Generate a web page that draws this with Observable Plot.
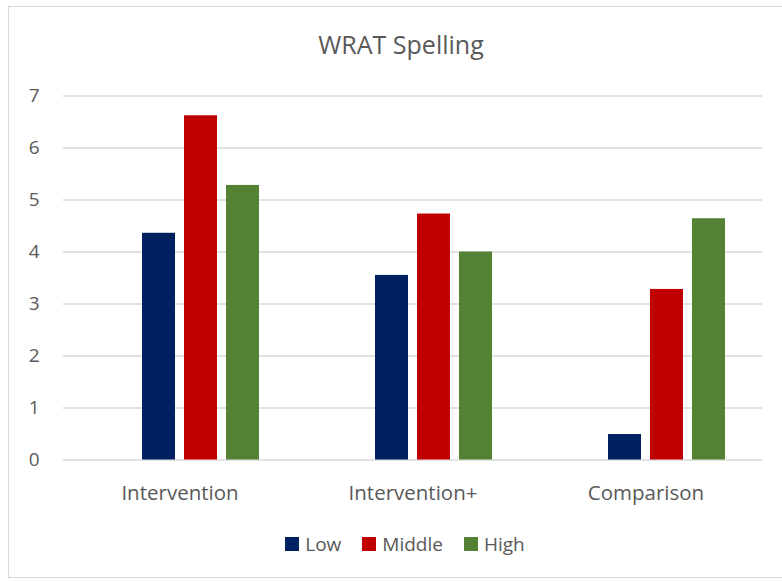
<!DOCTYPE html>
<html><head><meta charset="utf-8">
<script src="https://cdn.jsdelivr.net/npm/d3@7"></script>
<script src="https://cdn.jsdelivr.net/npm/@observablehq/plot@0.6"></script>
<style>
body{margin:0;background:#fff;font-family:"Open Sans",sans-serif;}
#wrap{position:relative;width:782px;height:581px;overflow:hidden;background:#fff;}
#frame{position:absolute;left:8px;top:6px;width:800px;height:572px;border:1.5px solid #d9d9d9;box-sizing:border-box;}
#title{position:absolute;top:28px;left:20px;width:762px;text-align:center;font-size:25px;line-height:32px;color:#595959;}
#chart{position:absolute;top:70px;left:0;}
#legend{position:absolute;top:530px;left:0;width:810px;display:flex;justify-content:center;gap:21px;font-size:19px;line-height:28px;color:#595959;}
#legend span.item{display:flex;align-items:center;gap:6px;}
#legend span.sw{display:inline-block;width:14px;height:14px;}
</style></head>
<body>
<div id="wrap">
  <div id="frame"></div>
  <div id="title">WRAT Spelling</div>
  <div id="chart"></div>
  <div id="legend"></div>
</div>
<script>
const categories = ["Intervention", "Intervention+", "Comparison"];
const series = ["Low", "Middle", "High"];
const low = [4.36, 3.55, 0.49];
const middle = [6.62, 4.73, 3.28];
const high = [5.28, 4.0, 4.64];
const yTicks = [0, 1, 2, 3, 4, 5, 6, 7];
const colors = ["#002060", "#C00000", "#548235"];

const values = [low, middle, high];
const rows = [];
categories.forEach((c, i) => series.forEach((s, j) => rows.push({category: c, series: s, value: values[j][i]})));

const chart = Plot.plot({
  width: 782,
  height: 440,
  marginTop: 25.5,
  marginBottom: 50.5,
  marginLeft: 62,
  marginRight: 19,
  style: {fontFamily: "'Open Sans', sans-serif", color: "#595959", background: "transparent"},
  fx: {domain: categories, padding: 0, label: null},
  x: {domain: ["_slot", ...series], paddingInner: 0.22, paddingOuter: 0.875, axis: null},
  y: {domain: [0, 7], label: null},
  color: {domain: series, range: colors},
  marks: [
    Plot.gridY(yTicks, {stroke: "#d9d9d9", strokeOpacity: 1, strokeWidth: 1.5}),
    Plot.barY(rows, {fx: "category", x: "series", y: "value", fill: "series"}),
    Plot.axisY(yTicks, {tickSize: 0, tickPadding: 24, fontSize: 19, fill: "#595959", label: null, tickFormat: d3.format("d")}),
    Plot.axisFx({anchor: "bottom", tickSize: 0, tickPadding: 25, fontSize: 20.5, fill: "#595959", label: null})
  ]
});
document.getElementById("chart").appendChild(chart);

const legend = document.getElementById("legend");
series.forEach((s, i) => {
  const item = document.createElement("span");
  item.className = "item";
  const sw = document.createElement("span");
  sw.className = "sw";
  sw.style.background = colors[i];
  item.appendChild(sw);
  item.appendChild(document.createTextNode(s));
  legend.appendChild(item);
});
</script>
</body></html>
